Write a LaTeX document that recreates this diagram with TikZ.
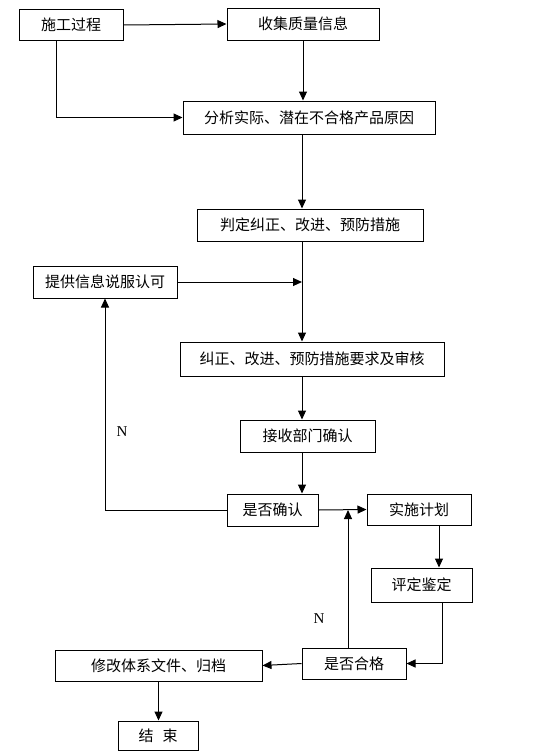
\documentclass[tikz,border=0pt]{standalone}
\usepackage{fontspec}
\setmainfont{Liberation Serif}
\newfontfamily\cjk{Noto Sans CJK SC}
\usetikzlibrary{arrows.meta}
\tikzset{
  box/.style={draw, line width=1pt, inner sep=0pt, font=\cjk\fontsize{15}{17}\selectfont},
  arr/.style={line width=1pt, -{Triangle[length=9pt,width=8pt]}},
  lbl/.style={font=\fontsize{15}{17}\selectfont}
}
\begin{document}
\begin{tikzpicture}[x=1pt,y=1pt]
    \useasboundingbox (0,0) rectangle (540,-755);
    \coordinate (spine) at (302,0);

    % upper part
    \node[box, minimum width=104pt, minimum height=31pt] (shigong) at (71,-25) {施工过程};
    \node[box, minimum width=152pt, minimum height=32pt] (shouji) at (303,-24) {收集质量信息};
    \node[box, minimum width=252pt, minimum height=33pt] (fenxi) at (309,-117.5) {分析实际、潜在不合格产品原因};
    \node[box, minimum width=226pt, minimum height=32pt] (panding) at (310,-225) {判定纠正、改进、预防措施};
    \node[box, minimum width=144pt, minimum height=32pt] (tigong) at (105,-282) {提供信息说服认可};
    \node[box, minimum width=264pt, minimum height=34pt] (yaoqiu) at (312,-359) {纠正、改进、预防措施要求及审核};
    \node[box, minimum width=135pt, minimum height=32pt] (jieshou) at (307.5,-436) {接收部门确认};
    \node[box, minimum width=91pt, minimum height=32pt] (queren) at (272.5,-510) {是否确认};

    % lower part
    \node[box, minimum width=104pt, minimum height=31pt] (shishi) at (419,-509.5) {实施计划};
    \node[box, minimum width=101pt, minimum height=34pt] (pingding) at (421.5,-585) {评定鉴定};
    \node[box, minimum width=104pt, minimum height=31pt] (hege) at (354,-663.5) {是否合格};
    \node[box, minimum width=207pt, minimum height=31pt] (xiugai) at (158.5,-665.5) {修改体系文件、归档};
    \node[box, minimum width=80pt, minimum height=29pt] (jieshu) at (158,-735.5) {结\hspace{9pt}束};

    \node[lbl] (n1) at (122,-432) {N};
    \node[lbl] (n2) at (319,-619) {N};

    % connectors
    \draw[arr] (shigong.east) -- (shouji.west);
    \draw[arr] (shouji.south) -- (shouji.south |- fenxi.north);
    \draw[arr] ([xshift=-15pt]shigong.south) |- (fenxi.west);
    \draw[arr] (spine |- fenxi.south) -- (spine |- panding.north);
    \draw[arr] (spine |- panding.south) -- (spine |- yaoqiu.north);
    \draw[arr] (tigong.east) -- (spine |- tigong.east);
    \draw[arr] (spine |- yaoqiu.south) -- (spine |- jieshou.north);
    \draw[arr] (spine |- jieshou.south) -- (spine |- queren.north);
    \draw[arr] (queren.west) -| (tigong.south);
    \draw[arr] (queren.east) -- (shishi.west);
    \draw[arr] ([xshift=20pt]shishi.south) -- ([xshift=20pt]shishi.south |- pingding.north);
    \draw[arr] ([xshift=21pt]pingding.south) |- (hege.east);
    \draw[arr] ([xshift=-6pt]hege.north) -- ([xshift=-6pt]hege.north |- queren.east);
    \draw[arr] (hege.west) -- (xiugai.east);
    \draw[arr] (xiugai.south) -- (xiugai.south |- jieshu.north);
\end{tikzpicture}
\end{document}
